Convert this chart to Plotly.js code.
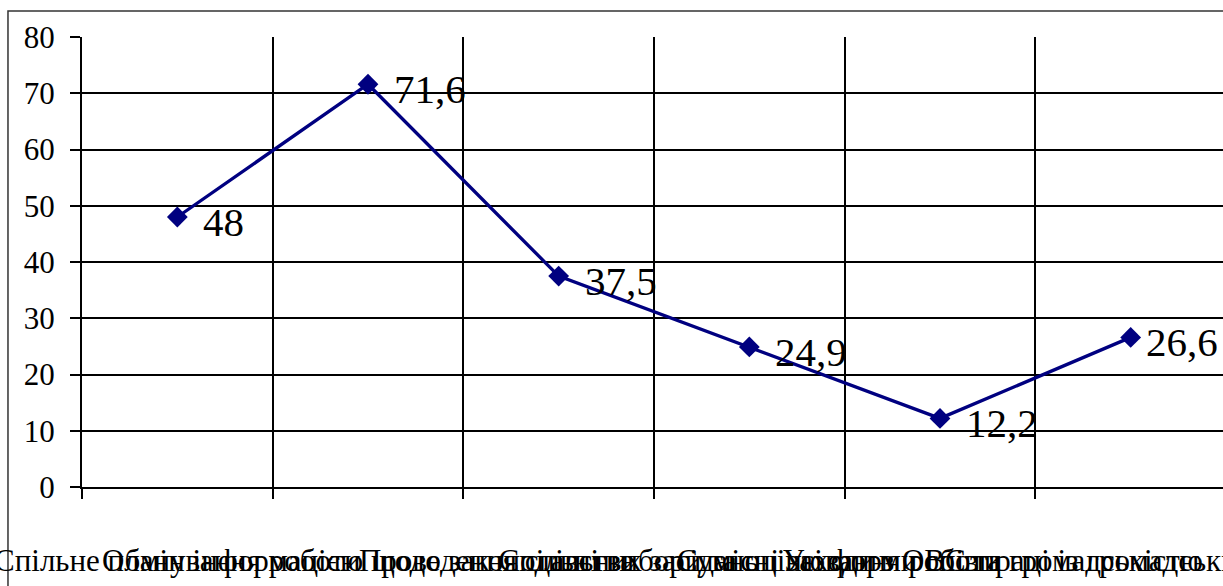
<!DOCTYPE html>
<html>
<head>
<meta charset="utf-8">
<script src="https://cdn.plot.ly/plotly-3.0.1.min.js"></script>
<style>
  html, body { margin: 0; padding: 0; background: #fff; overflow: hidden; width: 1223px; height: 586px; }
  #chart { width: 1230px; height: 586px; }
</style>
</head>
<body>
<div id="chart"></div>
<script>
// Data
const categories = [
  "Спільне планування роботи",
  "Обмін інформацією щодо законодавства",
  "Проведення спільних засідань",
  "Спільні вибори та оцінювання роботи",
  "Сумісні заходи з ОВС та громадськістю",
  "Усі форми співпраці із громадськими формуваннями"
];
const values = [48, 71.6, 37.5, 24.9, 12.2, 26.6];
const yTicks = [0, 10, 20, 30, 40, 50, 60, 70, 80];

const serif = "Liberation Serif, Times New Roman, serif";
const navy = "#000080";

const trace = {
  type: "scatter",
  mode: "lines+markers",
  x: categories,
  y: values,
  line: { color: navy, width: 3.3 },
  marker: { symbol: "diamond", size: 16, color: navy },
  hoverinfo: "skip",
  cliponaxis: false
};

const lastIdx = categories.length - 1;
const annotations = categories.map((c, i) => ({
  x: c,
  y: values[i],
  xref: "x",
  yref: "y",
  text: String(values[i]).replace(".", ","),
  showarrow: false,
  xanchor: "left",
  yanchor: "middle",
  xshift: i === lastIdx ? 13 : 24,
  yshift: -5,
  font: { family: serif, size: 41, color: "#000" }
}));

const layout = {
  width: 1230,
  height: 586,
  margin: { l: 82, r: 4, t: 37, b: 99 },
  paper_bgcolor: "#fff",
  plot_bgcolor: "#fff",
  showlegend: false,
  font: { family: serif, color: "#000" },
  xaxis: {
    type: "category",
    range: [-0.5, 5.5],
    tickson: "boundaries",
    ticks: "outside",
    ticklen: 10,
    tickwidth: 2,
    tickcolor: "#000",
    tickangle: 0,
    showgrid: true,
    gridcolor: "#000",
    gridwidth: 2,
    showline: true,
    linecolor: "#000",
    linewidth: 2,
    ticklabelstandoff: 45,
    tickfont: { family: serif, size: 31, color: "#000" },
    fixedrange: true
  },
  yaxis: {
    range: [0, 80],
    tickmode: "array",
    tickvals: yTicks,
    ticktext: yTicks.map(String),
    ticks: "outside",
    ticklen: 10,
    tickwidth: 2,
    tickcolor: "#000",
    showgrid: true,
    gridcolor: "#000",
    gridwidth: 2,
    zeroline: false,
    showline: true,
    linecolor: "#000",
    linewidth: 2,
    ticklabelstandoff: 9,
    tickfont: { family: serif, size: 31, color: "#000" },
    fixedrange: true
  },
  shapes: [{
    type: "rect",
    xref: "paper", yref: "paper",
    x0: -0.0647, x1: 1.02,
    y0: -0.3, y1: 1.0578,
    line: { color: "#333", width: 1.5 },
    fillcolor: "rgba(0,0,0,0)",
    layer: "below"
  }],
  annotations: annotations
};

Plotly.newPlot("chart", [trace], layout, { staticPlot: true, displayModeBar: false });
</script>
</body>
</html>
